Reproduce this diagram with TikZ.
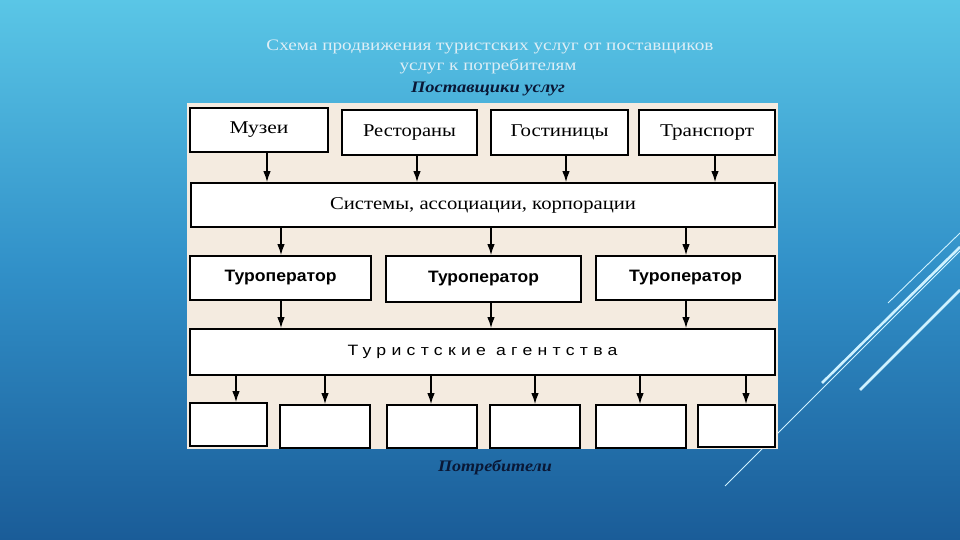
\documentclass[tikz,border=0pt]{standalone}
\usepackage{fontspec}
\setmainfont{Liberation Serif}
\setsansfont{Liberation Sans}
\newfontfamily\spacedsans[LetterSpace=30]{Liberation Sans}
\usetikzlibrary{arrows.meta}
\definecolor{bgtop}{HTML}{5AC6E6}
\definecolor{bgmid}{HTML}{3190C8}
\definecolor{bgbot}{HTML}{1A5C98}
\definecolor{panel}{HTML}{F4EBE0}
\definecolor{titlec}{HTML}{DDEEF6}
\definecolor{navy}{HTML}{0A1836}
\definecolor{deco}{HTML}{CFF2FF}
\newcommand\fitw[2]{\resizebox{#1pt}{\height}{#2}}
\begin{document}
\begin{tikzpicture}[x=1pt,y=-1pt,
  box/.style={draw=black, line width=1.8pt, fill=white, inner sep=0pt},
  arr/.style={-{Latex[length=11pt,width=7.5pt]}, line width=1.3pt, black},
  tbox/.style={font=\fontsize{18}{18}\selectfont},
  tobox/.style={font=\sffamily\bfseries\fontsize{16.5}{16.5}\selectfont},
  title/.style={text=titlec, inner sep=0pt, font=\fontsize{16}{16}\selectfont},
  subtitle/.style={text=navy, inner sep=0pt, font=\bfseries\itshape\fontsize{16}{16}\selectfont},
  decothin/.style={draw=deco, line width=0.9pt},
  decothick/.style={draw=deco, line width=2.6pt}]
\useasboundingbox (0,0) rectangle (960,540);
\shade[top color=bgtop, bottom color=bgbot, middle color=bgmid] (0,0) rectangle (960,540);
% decorative lines
\draw[decothin] (725,486) -- (960,251);
\draw[decothick] (822,383) -- (960,247);
\draw[decothick] (860,390) -- (960,290);
\draw[decothin] (888,303) -- (960,233);
% titles
\node[title] (t1) at (490,47) {\fitw{447}{Схема продвижения туристских услуг от поставщиков}};
\node[title] (t2) at (488,67) {\fitw{177}{услуг к потребителям}};
\node[subtitle] (sup) at (488,89) {\fitw{154}{Поставщики услуг}};
% panel
\fill[panel] (187,103) rectangle (778,449);
% row 1
\node[box, minimum width=138pt, minimum height=44pt, tbox] (mus) at (259,130) {\fitw{59}{Музеи}};
\node[box, minimum width=135pt, minimum height=45pt, tbox] (rest) at (409.5,132.5) {\fitw{93}{Рестораны}};
\node[box, minimum width=137pt, minimum height=45pt, tbox] (gost) at (559.5,132.5) {\fitw{98}{Гостиницы}};
\node[box, minimum width=136pt, minimum height=45pt, tbox] (trans) at (707,132.5) {\fitw{94}{Транспорт}};
% systems
\node[box, minimum width=584pt, minimum height=44pt, tbox] (sys) at (483,205) {\fitw{306}{Системы, ассоциации, корпорации}};
% tour operators
\node[box, minimum width=181pt, minimum height=44pt, tobox] (to1) at (280.5,278) {\fitw{112}{Туроператор}};
\node[box, minimum width=195pt, minimum height=46pt, tobox] (to2) at (483.5,279) {\fitw{111}{Туроператор}};
\node[box, minimum width=179pt, minimum height=44pt, tobox] (to3) at (685.5,278) {\fitw{113}{Туроператор}};
% agencies
\node[box, minimum width=585pt, minimum height=46pt, font=\spacedsans\fontsize{15}{15}\selectfont] (ag) at (482.5,352) {\fitw{270}{Туристские агентства}};
% consumers
\node[box, minimum width=77pt, minimum height=43pt] (c1) at (228.5,424.5) {};
\node[box, minimum width=90pt, minimum height=43pt] (c2) at (325,426.5) {};
\node[box, minimum width=90pt, minimum height=43pt] (c3) at (432,426.5) {};
\node[box, minimum width=90pt, minimum height=43pt] (c4) at (535,426.5) {};
\node[box, minimum width=90pt, minimum height=43pt] (c5) at (641,426.5) {};
\node[box, minimum width=77pt, minimum height=42pt] (c6) at (736.5,426) {};
\node[subtitle] (cons) at (495,467) {\fitw{114}{Потребители}};
% arrow columns
\foreach \n/\x in {a1/267,a2/417,a3/566,a4/715,b1/281,b2/491,b3/686,d1/236,d2/325,d3/431,d4/535,d5/640,d6/746}
  \coordinate (\n) at (\x,0);
\draw[arr] (mus.south -| a1) -- (sys.north -| a1);
\draw[arr] (rest.south -| a2) -- (sys.north -| a2);
\draw[arr] (gost.south -| a3) -- (sys.north -| a3);
\draw[arr] (trans.south -| a4) -- (sys.north -| a4);
\draw[arr] (sys.south -| b1) -- (to1.north -| b1);
\draw[arr] (sys.south -| b2) -- (to2.north -| b2);
\draw[arr] (sys.south -| b3) -- (to3.north -| b3);
\draw[arr] (to1.south -| b1) -- (ag.north -| b1);
\draw[arr] (to2.south -| b2) -- (ag.north -| b2);
\draw[arr] (to3.south -| b3) -- (ag.north -| b3);
\draw[arr] (ag.south -| d1) -- (c1.north -| d1);
\draw[arr] (ag.south -| d2) -- (c2.north -| d2);
\draw[arr] (ag.south -| d3) -- (c3.north -| d3);
\draw[arr] (ag.south -| d4) -- (c4.north -| d4);
\draw[arr] (ag.south -| d5) -- (c5.north -| d5);
\draw[arr] (ag.south -| d6) -- (c6.north -| d6);
\end{tikzpicture}
\end{document}
